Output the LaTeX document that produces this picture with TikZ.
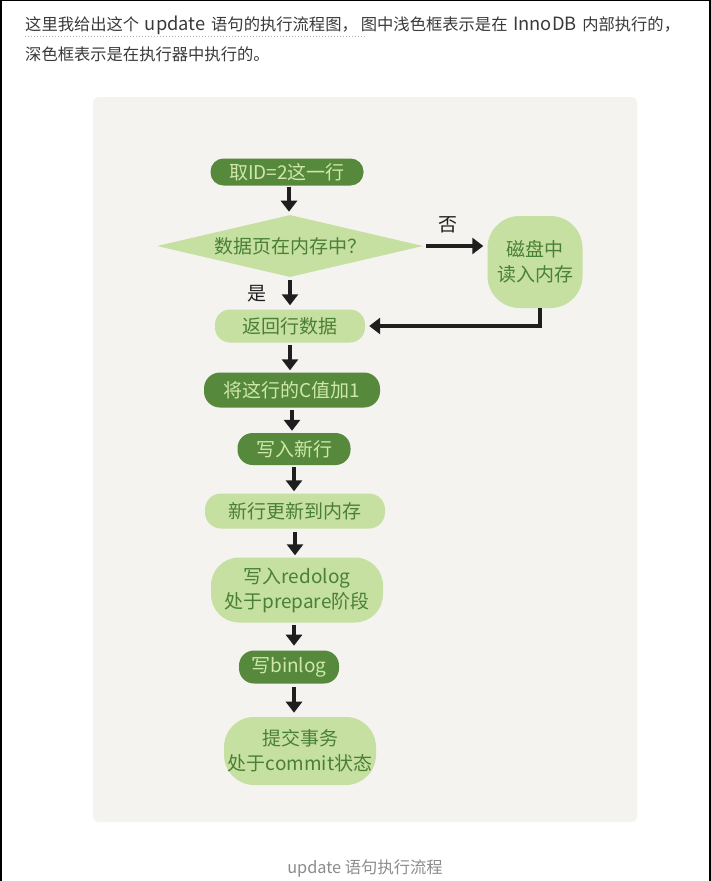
\documentclass[tikz,border=0pt]{standalone}
\usepackage{fontspec}
\setmainfont{Noto Sans CJK SC}
\usepackage{tikz}
\usetikzlibrary{shapes.geometric, arrows, arrows.meta}
\definecolor{darkgreen}{HTML}{56893C}
\definecolor{darktext}{HTML}{CFE7AB}
\definecolor{lightgreen}{HTML}{C6E0A2}
\definecolor{lighttext}{HTML}{4A8034}
\definecolor{paper}{HTML}{F4F3EF}
\definecolor{ink}{HTML}{1E1E1E}
\definecolor{bodytext}{HTML}{3A3A3A}
\definecolor{captext}{HTML}{8C8C8C}
\newcommand{\latinword}[1]{{\fontsize{18.3}{20}\selectfont #1}}
\tikzstyle{darkbox} = [rectangle, rounded corners=13pt, inner sep=0pt, text centered, align=center, fill=darkgreen, text=darktext, font=\fontsize{19}{25}\selectfont]
\tikzstyle{lightbox} = [rectangle, rounded corners=15pt, inner sep=0pt, text centered, align=center, fill=lightgreen, text=lighttext, font=\fontsize{19}{25}\selectfont]
\tikzstyle{decision} = [diamond, aspect=4.3, inner sep=0pt, minimum width=266pt, minimum height=62pt, text centered, fill=lightgreen, text=lighttext, font=\fontsize{19}{25}\selectfont]
\tikzstyle{arrow} = [line width=3.4pt, draw=ink, -{Triangle[length=11pt, width=16pt]}]
\tikzstyle{answer} = [text=ink, font=\fontsize{19}{22}\selectfont]
\tikzstyle{intro} = [anchor=west, inner sep=0pt, text=bodytext, font=\fontsize{16.3}{20}\selectfont]

\begin{document}
\begin{tikzpicture}[x=1pt, y=1pt, node distance=62pt]
		\useasboundingbox (0,0) rectangle (711,-881);
		\fill[white] (0,0) rectangle (711,-881);
		\fill[black] (0,0) rectangle (2,-881);
		\fill[black] (709,0) rectangle (711,-881);
		\fill[black] (0,0) rectangle (711,-1.3);
		\fill[paper, rounded corners=5pt] (93,-97) rectangle (637,-822);

		\node (intro1) [intro] at (25,-25) {这里我给出这个\hspace{2pt} \latinword{update} \hspace{2pt}语句的执行流程图，\hspace{3pt}图中浅色框表示是在\hspace{2pt} \latinword{InnoDB} \hspace{2pt}内部执行的，};
		\node (intro2) [intro] at (25,-54) {深色框表示是在执行器中执行的。};
		\draw [dotted, line width=1pt, gray!60] (25,-36) -- (365,-36);

		\node (getrow) [darkbox, minimum width=153pt, minimum height=27pt] at (287,-172) {取ID=2这一行};
		\node (inmem) [decision, below of=getrow, yshift=-12pt, xshift=3pt] {数据页在内存中？};
		\node (readdisk) [lightbox, right of=inmem, xshift=183pt, yshift=-16pt, minimum width=95pt, minimum height=92pt, rounded corners=32pt] {磁盘中\\读入内存};
		\node (retrow) [lightbox, below of=inmem, yshift=-18pt, minimum width=150pt, minimum height=33pt] {返回行数据};
		\node (addc) [darkbox, below of=retrow, yshift=-2pt, xshift=2pt, minimum width=176pt, minimum height=35pt, rounded corners=16pt] {将这行的C值加1};
		\node (newrow) [darkbox, below of=addc, yshift=3pt, xshift=2pt, minimum width=113pt, minimum height=32pt, rounded corners=15pt] {写入新行};
		\node (tomem) [lightbox, below of=newrow, xshift=1pt, minimum width=180pt, minimum height=35pt, rounded corners=16pt] {新行更新到内存};
		\node (redolog) [lightbox, below of=tomem, yshift=-17pt, xshift=2pt, minimum width=172pt, minimum height=65pt, rounded corners=28pt] {写入redolog\\处于prepare阶段};
		\node (binlog) [darkbox, below of=redolog, yshift=-15pt, xshift=-8pt, minimum width=100pt, minimum height=33pt, rounded corners=15pt] {写binlog};
		\node (commit) [lightbox, below of=binlog, yshift=-22pt, xshift=11pt, minimum width=152pt, minimum height=68pt, rounded corners=30pt] {提交事务\\处于commit状态};

		\node (caption) [text=captext, font=\fontsize{16.3}{20}\selectfont] at (365,-869) {update 语句执行流程};

		\draw [arrow, shorten <=1pt, shorten >=2pt] (getrow.south) ++(2pt,0) -- ++(0,-28pt);
		\draw [arrow, shorten <=3pt, shorten >=4pt] (inmem.east) -- node [answer, anchor=south, yshift=8pt, xshift=-7pt] {否} (inmem.east -| readdisk.west);
		\draw [arrow, shorten <=3pt, shorten >=4pt] (inmem.south) -- node [answer, anchor=east, xshift=-18pt] {是} (inmem.south |- retrow.north);
		\draw [arrow, shorten >=4pt] (readdisk.south) ++(5pt,0) |- (retrow.east);
		\draw [arrow, shorten <=2pt, shorten >=2pt] (retrow.south) -- (retrow.south |- addc.north);
		\draw [arrow, shorten <=2pt, shorten >=2pt] (addc.south) -- (addc.south |- newrow.north);
		\draw [arrow, shorten <=2pt, shorten >=2pt] (newrow.south) -- (newrow.south |- tomem.north);
		\draw [arrow, shorten <=3pt, shorten >=2pt] (tomem.south) -- (tomem.south |- redolog.north);
		\draw [arrow, shorten <=2pt, shorten >=2pt] (redolog.south) ++(-3pt,0) -- ++(0,-25pt);
		\draw [arrow, shorten <=3pt, shorten >=3pt] (binlog.south) ++(5pt,0) -- ++(0,-32pt);
		\end{tikzpicture}
\end{document}
